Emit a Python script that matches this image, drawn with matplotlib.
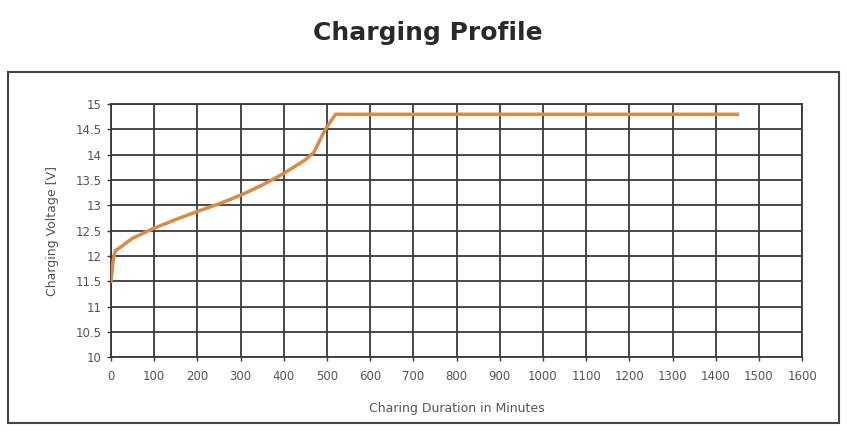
import matplotlib.pyplot as plt
from matplotlib.patches import Rectangle

# datos
minutos = [0, 5, 10, 50, 100, 150, 200, 250, 300, 350, 400, 450, 470, 490, 500, 520, 1450]
voltaje = [11.5, 11.9, 12.1, 12.35, 12.55, 12.72, 12.88, 13.03, 13.2, 13.4, 13.63, 13.9, 14.05, 14.4, 14.55, 14.8, 14.8]
ticks_x = list(range(0, 1700, 100))
ticks_y = [10, 10.5, 11, 11.5, 12, 12.5, 13, 13.5, 14, 14.5, 15]

fig = plt.figure(figsize=(8.47, 4.34), dpi=100)
fig.patch.set_facecolor('white')

# marco exterior
fig.patches.append(Rectangle((0.010, 0.025), 0.981, 0.81, transform=fig.transFigure,
                             fill=False, edgecolor='#444444', linewidth=1.5))

fig.text(0.505, 0.925, 'Charging Profile', ha='center', va='center',
         fontsize=18, fontweight='bold', color='#2a2a2a')

ax = fig.add_axes([0.131, 0.177, 0.816, 0.583])
ax.plot(minutos, voltaje, color='#d98c45', linewidth=2.5, zorder=3)

ax.set_xlim(0, 1600)
ax.set_ylim(10, 15)
ax.set_xticks(ticks_x)
ax.set_yticks(ticks_y)
ax.set_xticklabels([str(t) for t in ticks_x])
ax.set_yticklabels(['10', '10.5', '11', '11.5', '12', '12.5', '13', '13.5', '14', '14.5', '15'])
ax.grid(True, color='#3a3a3a', linewidth=1.3)
ax.set_axisbelow(True)
for s in ax.spines.values():
    s.set_color('#3a3a3a')
    s.set_linewidth(1.3)
ax.tick_params(axis='both', colors='#3a3a3a', labelcolor='#555555', labelsize=8.5,
               length=3, width=1.0)
ax.tick_params(axis='x', pad=6)

ax.set_xlabel('Charing Duration in Minutes', fontsize=9, color='#555555', labelpad=14)
ax.set_ylabel('Charging Voltage [V]', fontsize=9, color='#555555', labelpad=12)

fig.savefig('out.png', dpi=100, facecolor='white')
